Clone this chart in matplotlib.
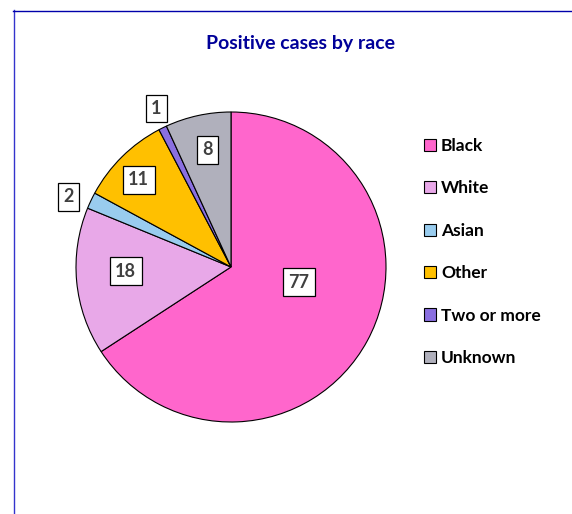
import numpy as np
import matplotlib.pyplot as plt
from matplotlib.lines import Line2D

# dane
categories = ['Black', 'White', 'Asian', 'Other', 'Two or more', 'Unknown']
values = [77, 18, 2, 11, 1, 8]
colors = ['#FF66CC', '#E8A8E8', '#99CCEE', '#FFC000', '#8A6FE0', '#B0B0BC']
title = 'Positive cases by race'

# rozmieszczenie etykiet (ułamek promienia, przesunięcie kąta w stopniach)
label_dist = [0.45, 0.68, 1.14, 0.82, 1.13, 0.77]
label_shift = [16, -3, 2, 2, -1, -1]

W, H = 572, 514
fig = plt.figure(figsize=(W / 100, H / 100), dpi=100)
plt.rcParams['font.family'] = ['Lato', 'DejaVu Sans']

ax = fig.add_axes([0, 0, 1, 1])

cx, cy, r = 231, H - 267, 155
wedges, _ = ax.pie(values, colors=colors, startangle=90, counterclock=False,
                   center=(cx, cy), radius=r, frame=True,
                   wedgeprops=dict(edgecolor='black', linewidth=0.8))
ax.set_xlim(0, W)
ax.set_ylim(0, H)
ax.axis('off')

for w, v, d, s in zip(wedges, values, label_dist, label_shift):
    ang = np.deg2rad((w.theta1 + w.theta2) / 2 + s)
    ax.text(cx + d * r * np.cos(ang), cy + d * r * np.sin(ang), str(v),
            ha='center', va='center', fontsize=13, fontweight='bold', color='#404040',
            bbox=dict(boxstyle='square,pad=0.3', facecolor='white', edgecolor='black', linewidth=0.9))

fig.text(300 / W, 1 - 43 / H, title, ha='center', va='center',
         fontsize=14, fontweight='bold', color='#000099')

leg = fig.legend(wedges, categories, loc='center left', bbox_to_anchor=(408 / W, 1 - 252 / H),
                 frameon=False, prop=dict(size=12.5, weight='bold'),
                 handlelength=0.7, handleheight=0.7, handletextpad=0.3, labelspacing=1.52)

# ramka
fig.add_artist(Line2D([13.5 / W, 13.5 / W], [0, 1 - 10 / H], color='#3333CC', linewidth=1))
fig.add_artist(Line2D([13 / W, 1], [1 - 10.5 / H, 1 - 10.5 / H], color='#0000AA', linewidth=1))

fig.savefig('out.png', dpi=100)
